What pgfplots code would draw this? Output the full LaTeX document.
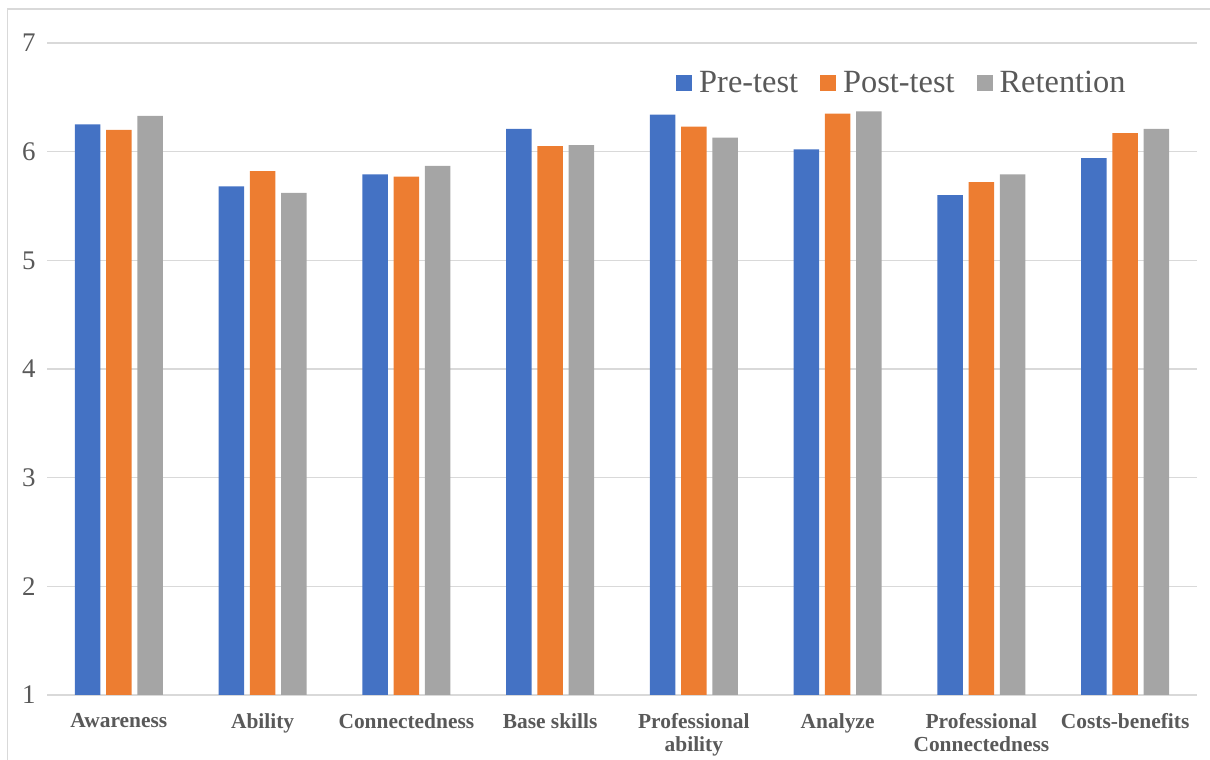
\documentclass[border=0pt]{standalone}
\usepackage{fontspec}
\setmainfont{Liberation Serif}
\usepackage{pgfplots}
\pgfplotsset{compat=1.18}

\definecolor{preblue}{HTML}{4472C4}
\definecolor{postorange}{HTML}{ED7D31}
\definecolor{retgray}{HTML}{A5A5A5}
\definecolor{gridgray}{HTML}{D9D9D9}
\definecolor{txtgray}{HTML}{595959}

\begin{document}
\begin{tikzpicture}
\path[use as bounding box] (0,0) rectangle (1210bp,760bp);
% outer chart frame (only left and top visible)
\draw[gridgray, line width=1.2bp] (7.5bp,0) -- (7.5bp,751bp) -- (1210bp,751bp);

\begin{axis}[
at={(47bp,65bp)}, anchor=south west,
scale only axis,
width=1150bp, height=652bp,
ybar=5.8bp, bar width=25.5bp,
xmin=-0.5, xmax=7.5,
ymin=1, ymax=7,
ytick={1,...,7},
xtick={0,...,7},
xticklabels={Awareness, Ability, Connectedness, Base skills,
  Professional\\ability, Analyze, Professional\\Connectedness, Costs-benefits},
xticklabel style={font=\fontsize{21.5}{23}\selectfont\bfseries, text=txtgray, align=center, yshift=-15bp},
yticklabel style={font=\fontsize{27}{28}\selectfont, text=txtgray, xshift=-8bp},
/pgf/number format/assume math mode=true,
major tick length=0pt,
ymajorgrids,
grid style={gridgray, line width=1.3bp},
axis line style={draw=none},
axis x line*=bottom, axis y line*=left,
legend columns=3,
legend style={at={(0.547,0.9387)}, anchor=west, draw=none, fill=none,
  font=\fontsize{32.5}{34}\selectfont, text=txtgray, inner sep=0pt,
  /tikz/every even column/.append style={column sep=20bp}},
legend image code/.code={\fill[#1] (0bp,-8bp) rectangle (16bp,8bp); \path (21bp,0bp);},
]
\draw[gridgray, line width=1.5bp] (rel axis cs:0,0) -- (rel axis cs:1,0);

\addplot[fill=preblue, draw=none] coordinates {
(0,6.25) (1,5.68) (2,5.79) (3,6.21) (4,6.34) (5,6.02) (6,5.60) (7,5.94)};
\addplot[fill=postorange, draw=none] coordinates {
(0,6.20) (1,5.82) (2,5.77) (3,6.05) (4,6.23) (5,6.35) (6,5.72) (7,6.17)};
\addplot[fill=retgray, draw=none] coordinates {
(0,6.33) (1,5.62) (2,5.87) (3,6.06) (4,6.13) (5,6.37) (6,5.79) (7,6.21)};
\legend{Pre-test, Post-test, Retention}
\end{axis}
\end{tikzpicture}
\end{document}
